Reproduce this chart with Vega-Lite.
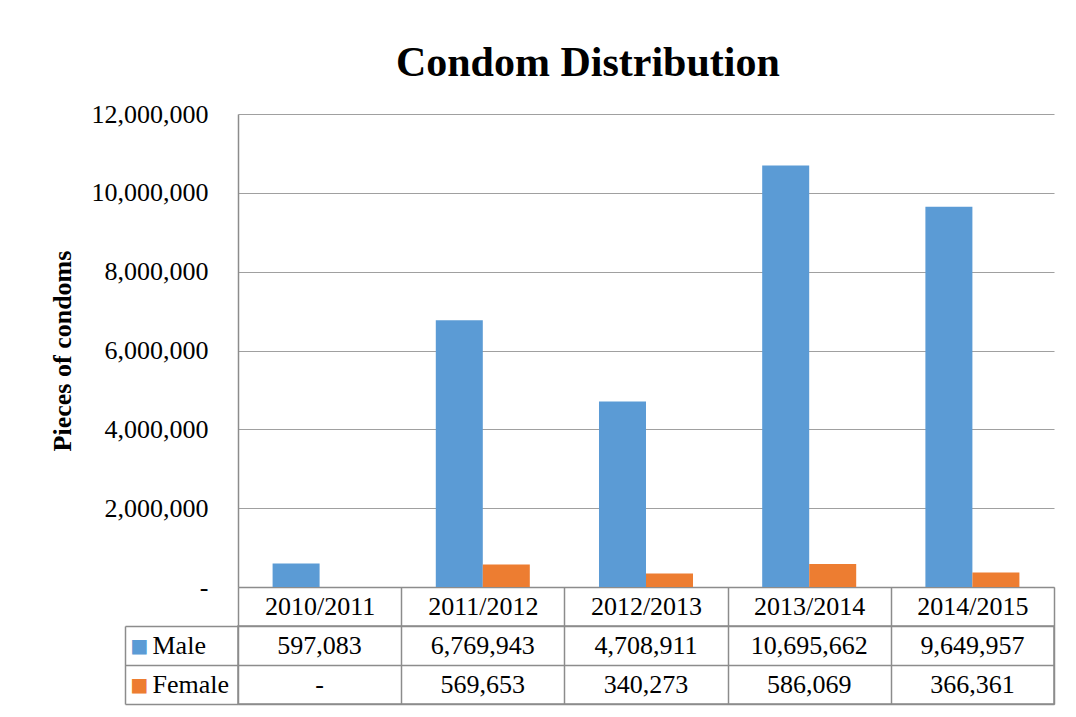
{
  "$schema": "https://vega.github.io/schema/vega-lite/v6.json",
  "padding": {"left": 49, "top": 42, "right": 16, "bottom": 12},
  "background": "white",
  "title": {
    "text": "Condom Distribution",
    "font": "Liberation Serif",
    "fontSize": 42,
    "fontWeight": "bold",
    "color": "#000000",
    "anchor": "middle",
    "dx": 36,
    "offset": 16
  },
  "datasets": {
    "cells": [
      {"year": "2010/2011", "series": "Male", "value": 597083},
      {"year": "2011/2012", "series": "Male", "value": 6769943},
      {"year": "2012/2013", "series": "Male", "value": 4708911},
      {"year": "2013/2014", "series": "Male", "value": 10695662},
      {"year": "2014/2015", "series": "Male", "value": 9649957},
      {"year": "2010/2011", "series": "Female", "value": 0},
      {"year": "2011/2012", "series": "Female", "value": 569653},
      {"year": "2012/2013", "series": "Female", "value": 340273},
      {"year": "2013/2014", "series": "Female", "value": 586069},
      {"year": "2014/2015", "series": "Female", "value": 366361}
    ]
  },
  "data": {"name": "cells"},
  "bounds": "flush",
  "spacing": 39,
  "resolve": {"scale": {"x": "independent", "y": "independent", "color": "independent"}},
  "vconcat": [
    {
      "width": 816,
      "height": 473,
      "mark": {"type": "bar"},
      "encoding": {
        "x": {
          "field": "year",
          "type": "nominal",
          "sort": null,
          "scale": {"paddingInner": 0, "paddingOuter": 0},
          "axis": {
            "title": null,
            "labelAngle": 0,
            "labelBaseline": "middle",
            "labelPadding": -19.5,
            "ticks": true,
            "tickBand": "extent",
            "tickSize": 39,
            "tickWidth": 1.5,
            "domain": true,
            "domainWidth": 1.5,
            "grid": false
          }
        },
        "xOffset": {
          "field": "series",
          "type": "nominal",
          "sort": ["Male", "Female"],
          "scale": {"paddingInner": 0, "paddingOuter": 0.736}
        },
        "y": {
          "field": "value",
          "type": "quantitative",
          "scale": {"domain": [0, 12000000], "nice": false},
          "axis": {
            "title": "Pieces of condoms",
            "titleFont": "Liberation Serif",
            "titleFontSize": 26,
            "titleFontWeight": "bold",
            "titleColor": "#000000",
            "titlePadding": 16,
            "values": [0, 2000000, 4000000, 6000000, 8000000, 10000000, 12000000],
            "labelExpr": "datum.value === 0 ? '-\u00a0\u00a0\u00a0' : format(datum.value, ',')",
            "labelPadding": 30,
            "ticks": false,
            "domain": true,
            "domainWidth": 1.5,
            "grid": true
          }
        },
        "color": {
          "field": "series",
          "type": "nominal",
          "sort": ["Male", "Female"],
          "scale": {"domain": ["Male", "Female"], "range": ["#5B9BD5", "#ED7D31"]},
          "legend": null
        }
      }
    },
    {
      "width": 816,
      "height": 78,
      "view": {"stroke": "#8c8c8c", "strokeWidth": 1.5},
      "layer": [
        {
          "mark": {"type": "text", "fontSize": 26, "font": "Liberation Serif", "color": "#000000", "align": "center", "baseline": "middle"},
          "encoding": {
            "x": {
              "field": "year",
              "type": "nominal",
              "sort": null,
              "scale": {"paddingInner": 0, "paddingOuter": 0},
              "axis": {
                "title": null,
                "labels": false,
                "ticks": false,
                "domain": false,
                "grid": true,
                "tickBand": "extent",
                "gridColor": "#8c8c8c",
                "gridWidth": 1.5
              }
            },
            "y": {
              "field": "series",
              "type": "nominal",
              "sort": ["Male", "Female"],
              "scale": {"paddingInner": 0, "paddingOuter": 0},
              "axis": {
                "orient": "left",
                "title": null,
                "domain": false,
                "ticks": true,
                "tickBand": "extent",
                "tickSize": 113,
                "tickWidth": 1.5,
                "tickColor": "#8c8c8c",
                "grid": true,
                "gridColor": "#8c8c8c",
                "gridWidth": 1.5,
                "labelAlign": "left",
                "labelBaseline": "middle",
                "labelPadding": -27
              }
            },
            "text": {
              "condition": {"test": "datum.value === 0", "value": "-"},
              "field": "value",
              "type": "quantitative",
              "format": ","
            }
          }
        },
        {
          "mark": {"type": "point", "opacity": 0},
          "encoding": {
            "y": {
              "field": "series",
              "type": "nominal",
              "sort": ["Male", "Female"],
              "axis": {
                "orient": "left",
                "offset": 113,
                "title": null,
                "domain": true,
                "domainColor": "#8c8c8c",
                "domainWidth": 1.5,
                "ticks": false,
                "tickSize": 0,
                "grid": false,
                "labelExpr": "'\u25a0'",
                "labelFont": "DejaVu Sans",
                "labelFontSize": 19,
                "labelAlign": "left",
                "labelBaseline": "middle",
                "labelPadding": -5,
                "labelColor": {
                  "condition": {"test": "datum.value === 'Male'", "value": "#5B9BD5"},
                  "value": "#ED7D31"
                }
              }
            }
          }
        }
      ],
      "resolve": {"axis": {"y": "independent"}}
    }
  ],
  "config": {
    "font": "Liberation Serif",
    "view": {"stroke": null},
    "axis": {
      "labelFont": "Liberation Serif",
      "labelFontSize": 26,
      "labelColor": "#000000",
      "domainColor": "#8c8c8c",
      "tickColor": "#8c8c8c",
      "gridColor": "#a0a0a0",
      "gridWidth": 1.2
    }
  }
}
